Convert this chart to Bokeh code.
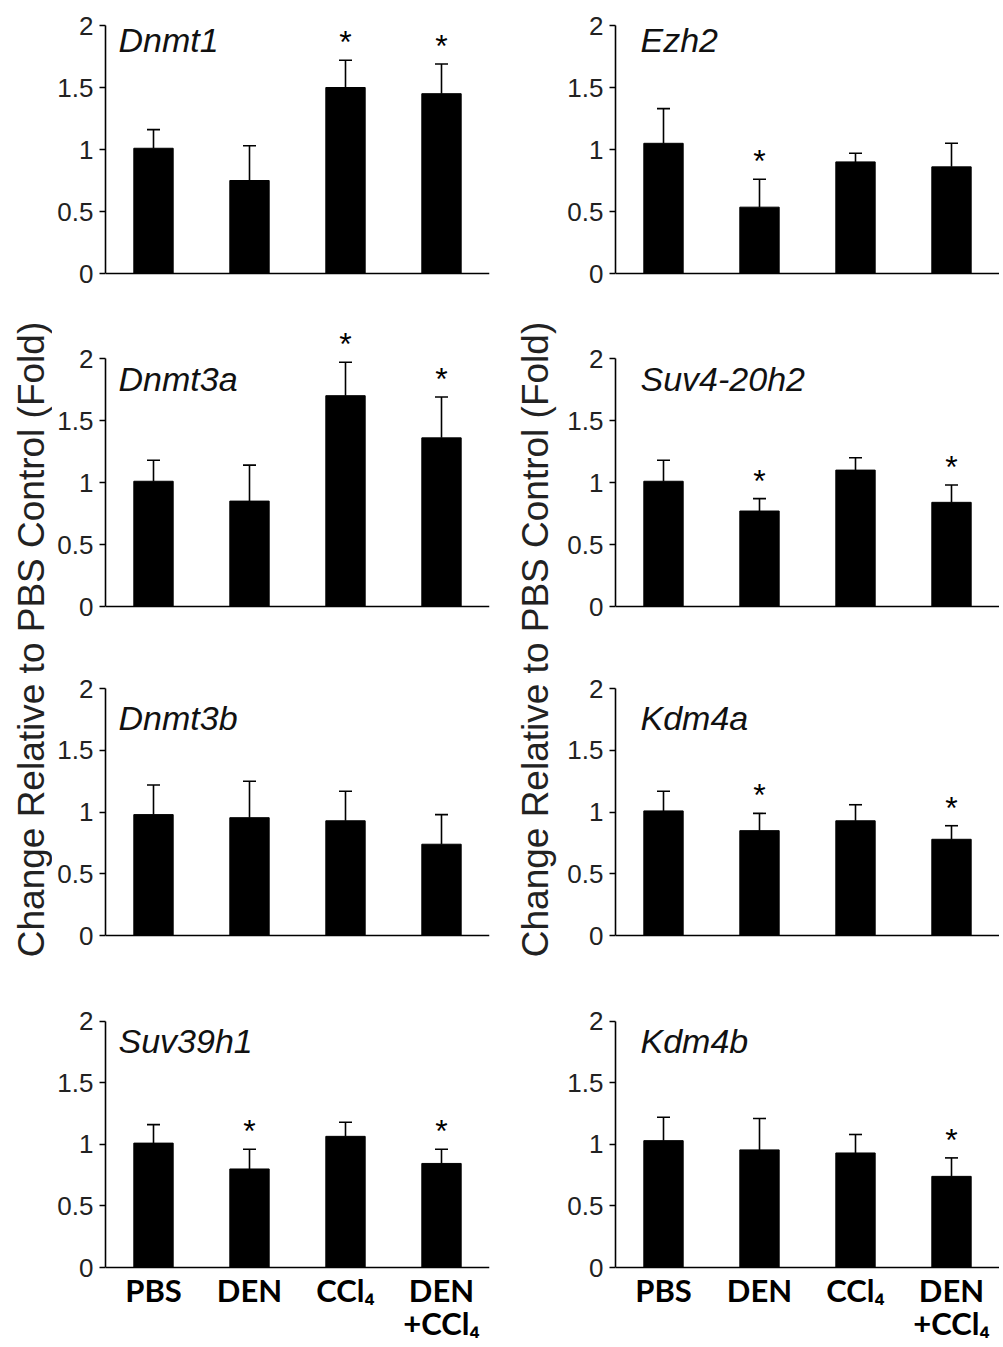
import math
from bokeh.plotting import figure
from bokeh.models import ColumnDataSource, FactorRange, Range1d, FixedTicker, Whisker, TeeHead, Span
from bokeh.layouts import row, column
from bokeh.embed import file_html
from bokeh.resources import INLINE
from bokeh.core.properties import value

# ---------------- data ----------------
groups = ["PBS", "DEN", "CCl4", "DEN+CCl4"]
group_labels = ["PBS", "DEN", "CCl\u2084", "DEN\n+CCl\u2084"]
yticks = [0, 0.5, 1, 1.5, 2]
ytick_labels = ["0", "0.5", "1", "1.5", "2"]
y_label = "Change Relative to PBS Control (Fold)"

dnmt1_mean = [1.01, 0.75, 1.50, 1.45]
dnmt1_err = [0.15, 0.28, 0.22, 0.24]
dnmt1_sig = [0, 0, 1, 1]

ezh2_mean = [1.05, 0.535, 0.90, 0.86]
ezh2_err = [0.28, 0.225, 0.07, 0.19]
ezh2_sig = [0, 1, 0, 0]

dnmt3a_mean = [1.01, 0.85, 1.70, 1.36]
dnmt3a_err = [0.17, 0.29, 0.27, 0.33]
dnmt3a_sig = [0, 0, 1, 1]

suv420h2_mean = [1.01, 0.77, 1.10, 0.84]
suv420h2_err = [0.17, 0.10, 0.10, 0.14]
suv420h2_sig = [0, 1, 0, 1]

dnmt3b_mean = [0.98, 0.955, 0.93, 0.74]
dnmt3b_err = [0.24, 0.295, 0.24, 0.24]
dnmt3b_sig = [0, 0, 0, 0]

kdm4a_mean = [1.01, 0.85, 0.93, 0.78]
kdm4a_err = [0.16, 0.14, 0.13, 0.11]
kdm4a_sig = [0, 1, 0, 1]

suv39h1_mean = [1.01, 0.80, 1.065, 0.845]
suv39h1_err = [0.15, 0.16, 0.115, 0.115]
suv39h1_sig = [0, 1, 0, 1]

kdm4b_mean = [1.03, 0.955, 0.93, 0.74]
kdm4b_err = [0.19, 0.255, 0.15, 0.15]
kdm4b_sig = [0, 0, 0, 1]

left_panels = [
    ("Dnmt1", dnmt1_mean, dnmt1_err, dnmt1_sig),
    ("Dnmt3a", dnmt3a_mean, dnmt3a_err, dnmt3a_sig),
    ("Dnmt3b", dnmt3b_mean, dnmt3b_err, dnmt3b_sig),
    ("Suv39h1", suv39h1_mean, suv39h1_err, suv39h1_sig),
]
right_panels = [
    ("Ezh2", ezh2_mean, ezh2_err, ezh2_sig),
    ("Suv4-20h2", suv420h2_mean, suv420h2_err, suv420h2_sig),
    ("Kdm4a", kdm4a_mean, kdm4a_err, kdm4a_sig),
    ("Kdm4b", kdm4b_mean, kdm4b_err, kdm4b_sig),
]

# ---------------- layout geometry (page pixels) ----------------
row_top = [0, 321, 651, 984]
row_y2 = [25, 358, 688.3, 1020.7]
row_y0 = [273, 606, 935, 1267]
row_bottom = [321, 651, 984, 1347]
title_drop = [14, 20, 29, 20]
FRAME_W = 384

SANS = value("Liberation Sans")


def make_panel(gene, mean, err, sig, side, r):
    top, y2, y0, bot = row_top[r], row_y2[r], row_y0[r], row_bottom[r]
    unit = (y0 - y2) / 2.0
    ymax = 2 + (y2 - top) / unit
    ymin = -(bot - y0) / unit
    last = (r == 3)
    frame_left = 105 if side == "L" else 615
    if r in (0, 3):
        fig_left = 0 if side == "L" else 500
    else:
        fig_left = 52 if side == "L" else 558
    mb_left = frame_left - fig_left
    mb_right = 11 if side == "L" else 0
    p = figure(
        x_range=FactorRange(*groups), y_range=Range1d(ymin, ymax),
        width=mb_left + FRAME_W + mb_right, height=bot - top,
        output_backend="svg", toolbar_location=None,
        min_border_left=mb_left, min_border_right=mb_right,
        min_border_top=0, min_border_bottom=0,
        x_axis_location=None,
    )
    p.outline_line_color = None
    p.xgrid.visible = False
    p.ygrid.visible = False
    p.background_fill_color = "white"
    p.border_fill_color = "white"

    # baseline (x axis line)
    p.add_layout(Span(location=0, dimension="width", line_color="black", line_width=1.6))

    upper = [m + e for m, e in zip(mean, err)]
    src = ColumnDataSource(dict(cat=groups, mean=mean, upper=upper))
    p.vbar(x="cat", top="mean", bottom=0, width=0.41, source=src,
           fill_color="black", line_color="black", line_width=1)
    p.add_layout(Whisker(source=src, base="cat", lower="mean", upper="upper",
                         dimension="height", line_color="black", line_width=1.6,
                         upper_head=TeeHead(size=13, line_color="black", line_width=1.6),
                         lower_head=None))

    star_x = [g for g, s in zip(groups, sig) if s]
    star_y = [u for u, s in zip(upper, sig) if s]
    if star_x:
        p.text(x=star_x, y=star_y, text=["*"] * len(star_x), text_align="center",
               text_baseline="bottom", text_font=SANS, text_font_size="32px",
               text_color="black")

    p.text(x=[groups[0]], y=[2], text=[gene],
           x_offset=-35 if side == "L" else -23, y_offset=title_drop[r],
           text_align="left", text_baseline="alphabetic",
           text_font=SANS, text_font_style="italic", text_font_size="34px",
           text_color="#111111")

    yax = p.yaxis[0]
    yax.ticker = FixedTicker(ticks=yticks, minor_ticks=[])
    yax.major_label_overrides = {float(t): l for t, l in zip(yticks, ytick_labels)}
    yax.bounds = (0, 2)
    yax.axis_line_width = 1.6
    yax.axis_line_color = "black"
    yax.major_tick_in = 0
    yax.major_tick_out = 6
    yax.major_tick_line_width = 1.5
    yax.minor_tick_line_color = None
    yax.major_label_standoff = 6
    yax.major_label_text_font = "Liberation Sans"
    yax.major_label_text_font_size = "26px"
    yax.major_label_text_color = "#222222"

    if last:
        p.text(x=groups, y=[0] * len(groups), text=group_labels, y_offset=3,
               text_align="center", text_baseline="top", text_font=value("Lato"),
               text_font_style="bold", text_font_size="31px", text_line_height=0.88,
               text_color="black")
    return p


def make_strip(width, height, xc, yc_from_top):
    s = figure(width=width, height=height, x_range=Range1d(0, width), y_range=Range1d(0, height),
               output_backend="svg", toolbar_location=None, min_border=0,
               x_axis_location=None, y_axis_location=None)
    s.outline_line_color = None
    s.xgrid.visible = False
    s.ygrid.visible = False
    s.background_fill_color = "white"
    s.border_fill_color = "white"
    s.text(x=[xc], y=[height - yc_from_top], text=[y_label], angle=math.pi / 2,
           text_align="center", text_baseline="middle", text_font=SANS,
           text_font_size="37px", text_color="#222222")
    return s


figL = [make_panel(*left_panels[i], "L", i) for i in range(4)]
figR = [make_panel(*right_panels[i], "R", i) for i in range(4)]
strip_h = row_top[3] - row_top[1]
stripL = make_strip(52, strip_h, 31, 318)
stripR = make_strip(58, strip_h, 35, 318)

left = column(figL[0], row(stripL, column(figL[1], figL[2])), figL[3])
right = column(figR[0], row(stripR, column(figR[1], figR[2])), figR[3])
root = row(left, right)

open("out.html", "w").write(file_html(root, INLINE))
